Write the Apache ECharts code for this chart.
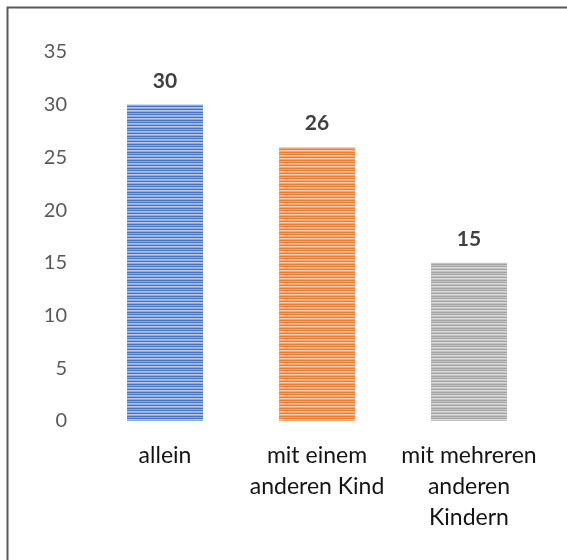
<!DOCTYPE html>
<html><head><meta charset="utf-8">
<script src="https://cdn.jsdelivr.net/npm/echarts@6/dist/echarts.min.js"></script>
<style>html,body{margin:0;padding:0;background:#fff}#c{width:567px;height:560px}</style>
</head><body><div id="c"></div>
<script>
const categories = ['allein', 'mit einem\nanderen Kind', 'mit mehreren\nanderen\nKindern'];
const values = [30, 26, 15];
const yTicks = [0, 5, 10, 15, 20, 25, 30, 35];
const palette = [
  ['#4472C4', '#8EA9DB', '#B4C7E7'],
  ['#ED7D31', '#F4A672', '#F8CBAD'],
  ['#A5A5A5', '#C3C3C3', '#DBDBDB']
];
function stripe(cols) {
  const c = document.createElement('canvas');
  c.width = 4; c.height = 8;
  const g = c.getContext('2d');
  const seq = [0, 1, 0, 2, 1, 0, 2, 1];
  for (let i = 0; i < 8; i++) { g.fillStyle = cols[seq[i]]; g.fillRect(0, i, 4, 1); }
  return c;
}
const chart = echarts.init(document.getElementById('c'), null, {renderer: 'canvas'});
chart.setOption({
  animation: false,
  backgroundColor: '#fff',
  graphic: [{type: 'rect', shape: {x: 7.5, y: 7.5, width: 600, height: 600}, style: {fill: 'none', stroke: '#595959', lineWidth: 2}}],
  grid: {left: 89, right: 22, top: 52, bottom: 139},
  xAxis: {
    type: 'category', data: categories,
    axisLine: {show: false}, axisTick: {show: false},
    axisLabel: {fontFamily: 'Lato', fontSize: 23, color: '#141414', lineHeight: 31, margin: 19, verticalAlign: 'top', interval: 0}
  },
  yAxis: {
    type: 'value', min: 0, max: 35, interval: 5,
    splitLine: {show: false}, axisLine: {show: false}, axisTick: {show: false},
    axisLabel: {fontFamily: 'Lato', fontSize: 20, color: '#595959', margin: 22, formatter: v => yTicks.includes(v) ? String(v) : ''}
  },
  series: [{
    type: 'bar', barWidth: '50%',
    data: values.map((v, i) => ({value: v, itemStyle: {color: {image: stripe(palette[i]), repeat: 'repeat'}}})),
    label: {show: true, position: 'top', distance: 13, fontFamily: 'Lato', fontWeight: 'bold', fontSize: 21, color: '#404040'}
  }]
});
</script></body></html>
